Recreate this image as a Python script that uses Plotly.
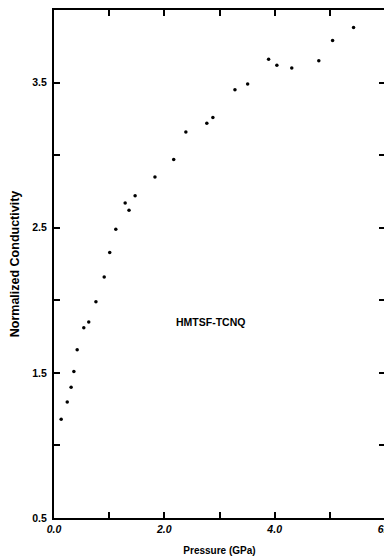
import plotly.graph_objects as go

pressure = [0.13, 0.24, 0.31, 0.36, 0.42, 0.54, 0.63, 0.76, 0.91, 1.01, 1.12, 1.29, 1.36, 1.47,
            1.83, 2.17, 2.39, 2.77, 2.88, 3.28, 3.51, 3.89, 4.04, 4.31, 4.80, 5.05, 5.43]
conductivity = [1.18, 1.30, 1.40, 1.51, 1.66, 1.81, 1.85, 1.99, 2.16, 2.33, 2.49, 2.67, 2.62, 2.72,
                2.85, 2.97, 3.16, 3.22, 3.26, 3.45, 3.49, 3.66, 3.62, 3.60, 3.65, 3.79, 3.88]

x_tickvals = [0, 1, 2, 3, 4, 5, 6]
x_ticktext = ["0.0", "", "2.0", "", "4.0", "", "6.0"]
y_tickvals = [0.5, 1.0, 1.5, 2.0, 2.5, 3.0, 3.5]
y_ticktext = ["0.5", "", "1.5", "", "2.5", "", "3.5"]

font_family = "Liberation Sans, Arial, sans-serif"

fig = go.Figure()
fig.add_trace(go.Scatter(
    x=pressure, y=conductivity, mode="markers",
    marker=dict(color="black", size=3.5),
    showlegend=False,
))

fig.add_annotation(
    x=2.84, y=1.85, xref="x", yref="y", text="HMTSF-TCNQ", showarrow=False,
    font=dict(family=font_family, size=10.5, color="black", weight="bold"),
)

# page body has an 8px default margin, so the figure is sized to fit inside it
fig.update_layout(
    width=384, height=549,
    margin=dict(l=46, r=7, t=2, b=39),
    paper_bgcolor="white", plot_bgcolor="white",
    font=dict(family=font_family, color="black"),
)

fig.update_xaxes(
    range=[0, 6], tickvals=x_tickvals, ticktext=x_ticktext,
    ticks="inside", ticklen=6, tickwidth=1.5, tickcolor="black",
    showline=True, linecolor="black", linewidth=2, mirror="ticks",
    showgrid=False, zeroline=False, automargin=False,
    ticklabeloverflow="allow",
    tickfont=dict(size=10.5, weight="bold", style="italic"),
    title=dict(text="Pressure (GPa)", font=dict(size=10, weight="bold"), standoff=13),
)
fig.update_yaxes(
    range=[0.5, 4.0], tickvals=y_tickvals, ticktext=y_ticktext,
    ticks="inside", ticklen=6, tickwidth=1.5, tickcolor="black",
    showline=True, linecolor="black", linewidth=2, mirror="ticks",
    showgrid=False, zeroline=False, automargin=False,
    ticklabelstandoff=3,
    tickfont=dict(size=10.5, weight="bold"),
    title=dict(text="Normalized Conductivity", font=dict(size=12.5, weight="bold"), standoff=13),
)

fig.write_html("out.html")
